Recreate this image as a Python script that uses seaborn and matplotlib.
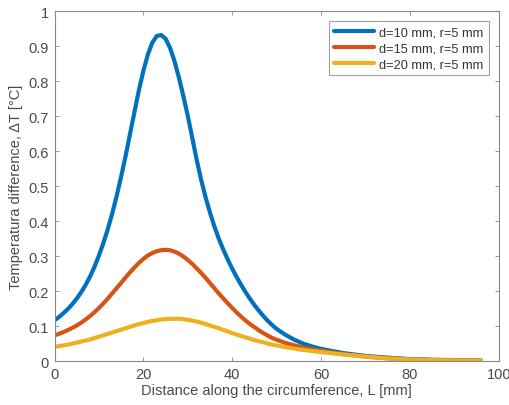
import matplotlib
matplotlib.use("Agg")
import matplotlib.pyplot as plt
import seaborn as sns
import pandas as pd

# distance along the circumference [mm]
L = list(range(0, 51)) + [52, 54, 56, 58, 60, 65, 70, 75, 80, 85, 90, 96]

# temperature difference [°C]
dT_d10 = [0.117, 0.126, 0.137, 0.149, 0.163, 0.179, 0.197, 0.218, 0.242, 0.270,
          0.302, 0.338, 0.378, 0.423, 0.473, 0.528, 0.587, 0.650, 0.713, 0.775,
          0.830, 0.876, 0.910, 0.929, 0.932, 0.921, 0.895, 0.857, 0.810, 0.757,
          0.700, 0.638, 0.575, 0.518, 0.468, 0.424, 0.384, 0.349, 0.318, 0.290,
          0.264, 0.240, 0.218, 0.197, 0.178, 0.160, 0.144, 0.129, 0.115, 0.103,
          0.092,
          0.075, 0.061, 0.050, 0.042, 0.035, 0.023, 0.015, 0.010, 0.006, 0.004,
          0.003, 0.002]
dT_d15 = [0.074, 0.078, 0.083, 0.089, 0.095, 0.102, 0.110, 0.119, 0.129, 0.140,
          0.152, 0.165, 0.179, 0.194, 0.209, 0.224, 0.239, 0.254, 0.268, 0.281,
          0.292, 0.302, 0.309, 0.314, 0.317, 0.318, 0.317, 0.313, 0.307, 0.299,
          0.289, 0.278, 0.265, 0.252, 0.238, 0.223, 0.208, 0.193, 0.179, 0.165,
          0.152, 0.139, 0.127, 0.116, 0.106, 0.097, 0.088, 0.080, 0.073, 0.066,
          0.061,
          0.052, 0.045, 0.039, 0.034, 0.030, 0.020, 0.013, 0.008, 0.005, 0.003,
          0.002, 0.0015]
dT_d20 = [0.041, 0.043, 0.045, 0.047, 0.050, 0.053, 0.056, 0.059, 0.062, 0.066,
          0.070, 0.074, 0.078, 0.082, 0.086, 0.090, 0.094, 0.098, 0.102, 0.106,
          0.109, 0.112, 0.115, 0.117, 0.119, 0.120, 0.121, 0.121, 0.121, 0.120,
          0.118, 0.116, 0.113, 0.110, 0.106, 0.102, 0.098, 0.094, 0.089, 0.085,
          0.080, 0.076, 0.072, 0.068, 0.064, 0.060, 0.057, 0.054, 0.050, 0.047,
          0.045,
          0.040, 0.036, 0.032, 0.029, 0.026, 0.019, 0.013, 0.008, 0.005, 0.003,
          0.002, 0.0015]

labels = ["d=10 mm, r=5 mm", "d=15 mm, r=5 mm", "d=20 mm, r=5 mm"]
colors = ["#0072BD", "#D95319", "#EDB120"]

rows = []
for lab, vals in zip(labels, [dT_d10, dT_d15, dT_d20]):
    for x, y in zip(L, vals):
        rows.append({"L": x, "dT": y, "case": lab})
df = pd.DataFrame(rows)

sns.set_style("white")
plt.rcParams['font.family'] = ['Liberation Sans', 'DejaVu Sans']

fig = plt.figure(figsize=(5.1, 4.06), dpi=100)
ax = fig.add_axes([0.107, 0.108, 0.871, 0.862])

sns.lineplot(data=df, x="L", y="dT", hue="case", palette=colors,
             linewidth=3, ax=ax, sort=False)

ax.set_xlim(0, 100)
ax.set_ylim(0, 1)
ax.set_xticks([0, 20, 40, 60, 80, 100])
ax.set_yticks([0, 0.1, 0.2, 0.3, 0.4, 0.5, 0.6, 0.7, 0.8, 0.9, 1])
ax.set_yticklabels(["0", "0.1", "0.2", "0.3", "0.4", "0.5", "0.6", "0.7", "0.8", "0.9", "1"])

gray = "#4a4a4a"
for s in ax.spines.values():
    s.set_color("#888888")
    s.set_linewidth(0.8)
ax.tick_params(direction="in", length=3, width=0.6, color="#888888",
               labelcolor=gray, labelsize=10.5, top=True, right=True,
               left=True, bottom=True, pad=4)

ax.set_xlabel("Distance along the circumference, L [mm]", fontsize=10.5, color=gray, labelpad=2)
ax.set_ylabel("Temperatura difference, \u0394T [\u00b0C]", fontsize=10.5, color=gray, labelpad=4)

leg = ax.legend(loc="upper right", fontsize=9.2, handlelength=3.1, frameon=True,
                fancybox=False, borderaxespad=0.8, labelspacing=0.3,
                borderpad=0.4, handletextpad=0.4)
leg.get_frame().set_edgecolor("#888888")
leg.get_frame().set_linewidth(0.8)
for t in leg.get_texts():
    t.set_color("#333333")

fig.savefig("out.png", dpi=100)
